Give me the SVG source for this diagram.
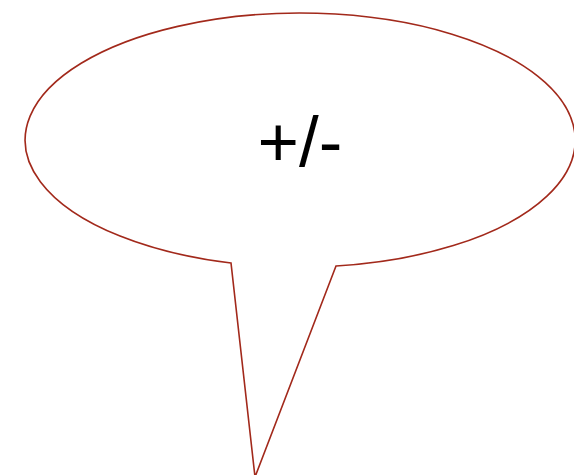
<svg xmlns="http://www.w3.org/2000/svg" width="574" height="475" viewBox="0 0 574 475">
<style>
.bubble{fill:#ffffff;stroke:#a2291b;stroke-width:1.6;stroke-linejoin:miter}
.lbl{font-family:"Liberation Sans","DejaVu Sans",sans-serif;font-size:71px;fill:#000000;text-anchor:middle}
</style>
<rect width="574" height="475" fill="#ffffff"/>
<g id="callout">
<path class="bubble" d="M231,263 A275,127 0 1 1 336,266 L255,477 Z"/>
<text class="lbl" x="300" y="166">+/-</text>
</g>
</svg>
